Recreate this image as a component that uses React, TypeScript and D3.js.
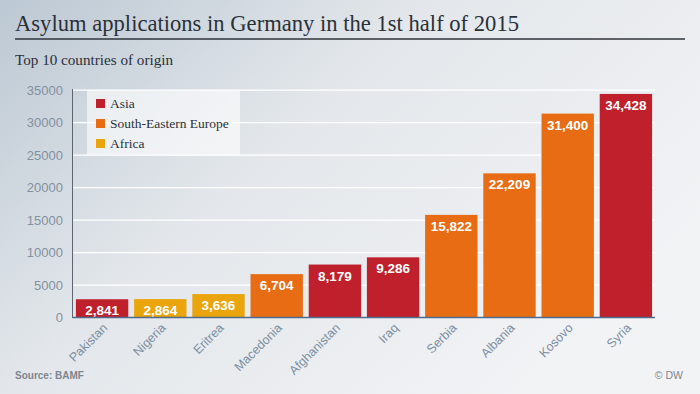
import React from 'react';
import * as d3 from 'd3';

const countries = ['Pakistan', 'Nigeria', 'Eritrea', 'Macedonia', 'Afghanistan', 'Iraq', 'Serbia', 'Albania', 'Kosovo', 'Syria'];
const applications = [2841, 2864, 3636, 6704, 8179, 9286, 15822, 22209, 31400, 34428];
const regions = ['Asia', 'Africa', 'Africa', 'South-Eastern Europe', 'Asia', 'Asia', 'South-Eastern Europe', 'South-Eastern Europe', 'South-Eastern Europe', 'Asia'];
const legendRegions = ['Asia', 'South-Eastern Europe', 'Africa'];
const regionColors = ['#c01f2c', '#e86c14', '#eaa50c'];
const yTicks = [0, 5000, 10000, 15000, 20000, 25000, 30000, 35000];

const W = 700;
const H = 394;
const sans = '"Liberation Sans", Arial, sans-serif';
const serif = '"Liberation Serif", Georgia, serif';

export default function App() {
  const x = d3.scaleBand<string>().domain(countries).range([73, 655]).paddingInner(0.1).paddingOuter(0.05);
  const y = d3.scaleLinear().domain([0, 35000]).range([317.7, 90.2]);
  const color = d3.scaleOrdinal<string, string>().domain(legendRegions).range(regionColors);
  const fmt = d3.format(',');

  return (
    <svg width={W} height={H} style={{ position: 'absolute', left: 0, top: 0 }}>
      <defs>
        <linearGradient id="bg" x1="0" y1="0" x2="1" y2="0.6">
          <stop offset="0" stopColor="#bcc8d3" />
          <stop offset="0.45" stopColor="#e3e7eb" />
          <stop offset="1" stopColor="#f2f3f5" />
        </linearGradient>
      </defs>
      <rect width={W} height={H} fill="url(#bg)" />

      <text x={15} y={30.5} fontFamily={serif} fontSize={23} fill="#2b3038" textLength={504} lengthAdjust="spacingAndGlyphs">
        Asylum applications in Germany in the 1st half of 2015
      </text>
      <line x1={15} x2={685} y1={39} y2={39} stroke="#2f343b" strokeWidth={1.3} />
      <text x={15} y={64.5} fontFamily={serif} fontSize={14.5} fill="#2b3038" textLength={158} lengthAdjust="spacingAndGlyphs">
        Top 10 countries of origin
      </text>

      {/* gridlines */}
      {yTicks.map(t => (
        <g key={t}>
          {t > 0 && <line x1={73} x2={655} y1={y(t)} y2={y(t)} stroke="#ffffff" strokeWidth={1.2} />}
          <text x={63} y={y(t) + 4.5} textAnchor="end" fontFamily={sans} fontSize={13} fill="#8391a0">
            {t}
          </text>
        </g>
      ))}

      {/* legend */}
      <rect x={87} y={90} width={153} height={65} fill="#ffffff" fillOpacity={0.6} />
      {legendRegions.map((r, i) => (
        <g key={r} transform={`translate(96, ${99 + i * 20})`}>
          <rect width={9} height={9} fill={color(r)} />
          <text x={14} y={9} fontFamily={serif} fontSize={13.5} fill="#2b3038">{r}</text>
        </g>
      ))}

      {/* bars */}
      {countries.map((c, i) => {
        const bx = x(c) as number;
        const by = y(applications[i]);
        return (
          <g key={c}>
            <rect x={bx} y={by} width={x.bandwidth()} height={y(0) - by} fill={color(regions[i])} />
            <text x={bx + x.bandwidth() / 2} y={by + 16} textAnchor="middle" fontFamily={sans} fontWeight="bold" fontSize={13.5} fill="#ffffff">
              {fmt(applications[i])}
            </text>
            <text
              transform={`translate(${bx + x.bandwidth() / 2 + 6}, ${y(0) + 11}) rotate(-45)`}
              textAnchor="end"
              fontFamily={sans}
              fontSize={12.5}
              fill="#7d8fa2"
            >
              {c}
            </text>
          </g>
        );
      })}

      {/* axes */}
      <line x1={72.5} x2={72.5} y1={89} y2={318} stroke="#5d6670" strokeWidth={1} />
      <line x1={72.5} x2={655} y1={317.5} y2={317.5} stroke="#4d6b8a" strokeWidth={1.3} />

      <text x={15} y={379} fontFamily={sans} fontWeight="bold" fontSize={10} fill="#7d8690">Source: BAMF</text>
      <text x={683} y={379} textAnchor="end" fontFamily={sans} fontSize={10.5} fill="#7d8690">© DW</text>
    </svg>
  );
}
